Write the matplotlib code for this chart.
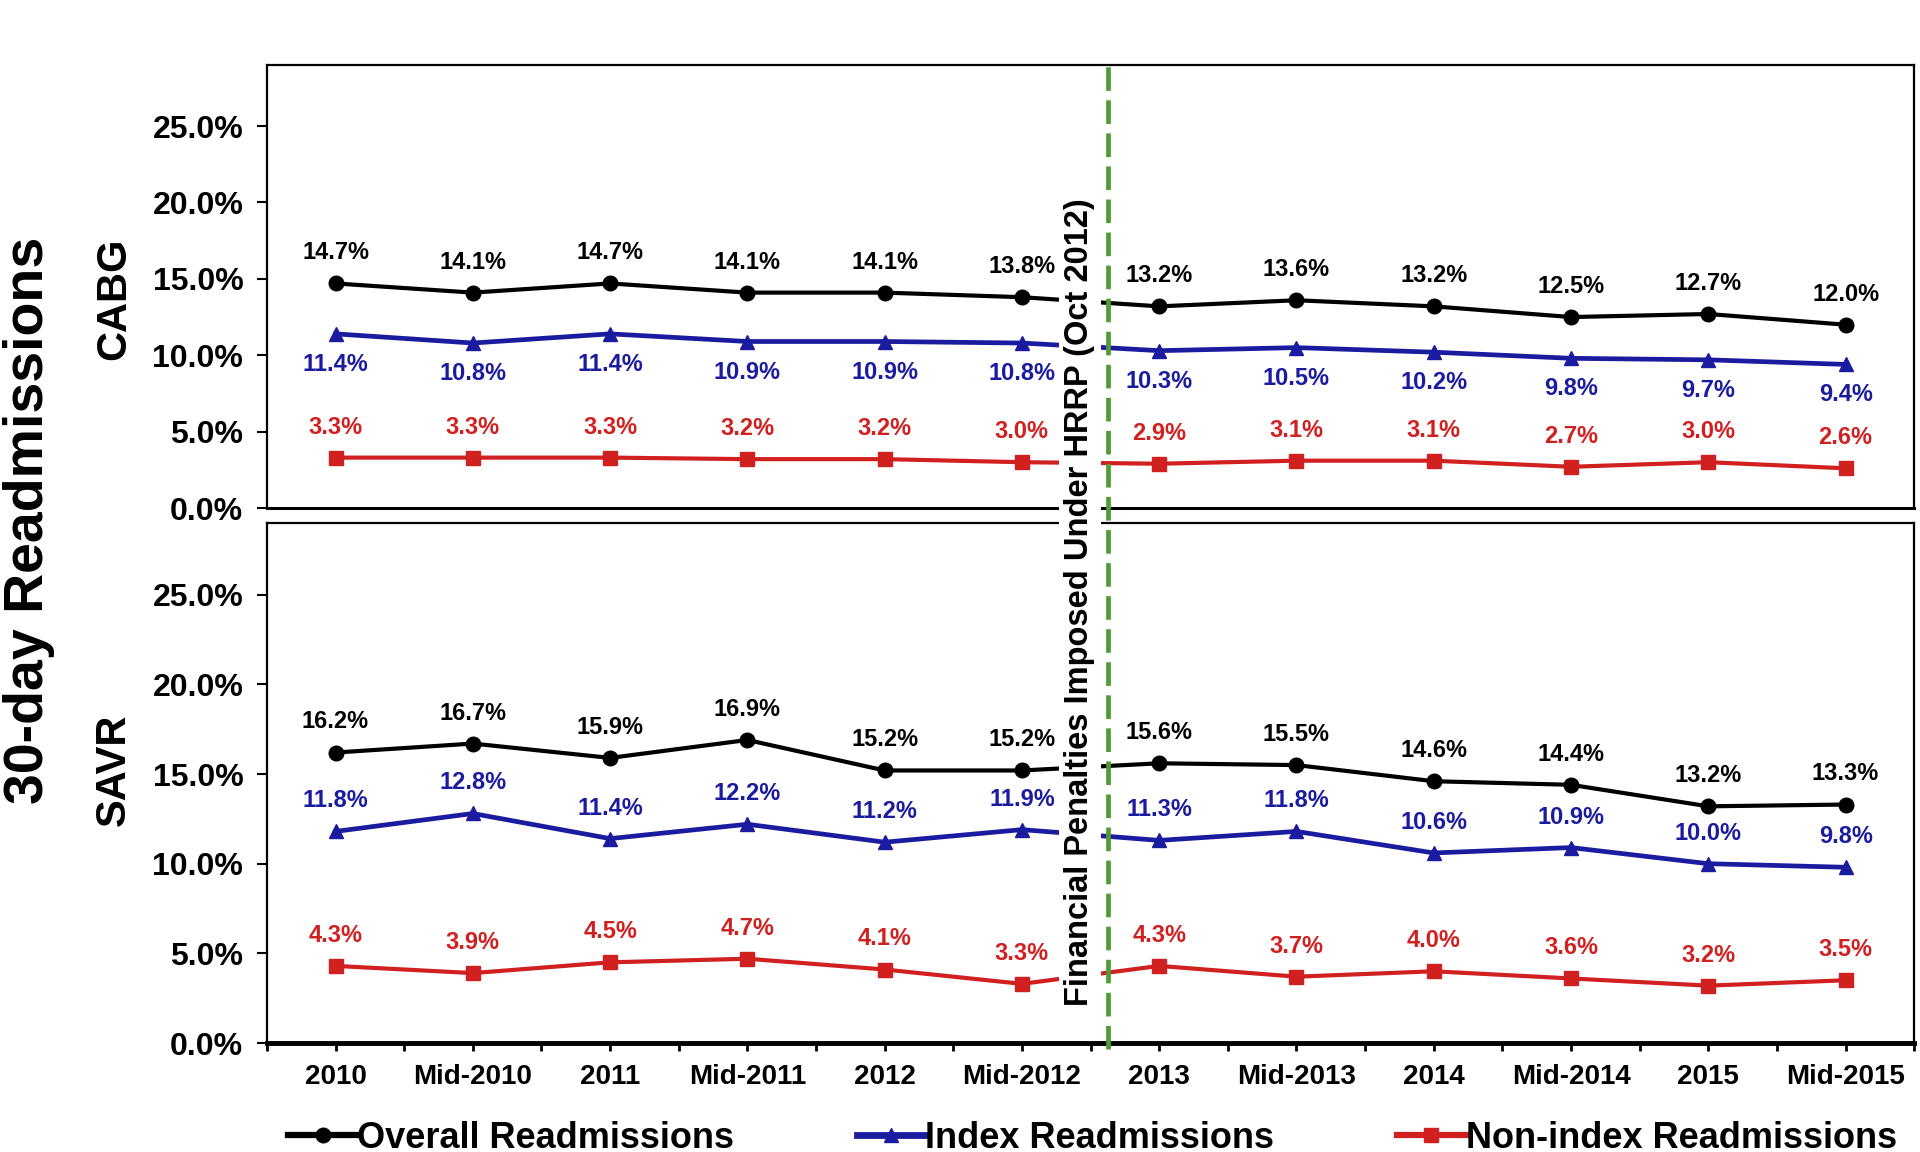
import matplotlib
matplotlib.use("Agg")
import matplotlib.pyplot as plt
from matplotlib.lines import Line2D
import matplotlib.transforms as mtransforms

# ---------------- data ----------------
periods = ["2010", "Mid-2010", "2011", "Mid-2011", "2012", "Mid-2012",
           "2013", "Mid-2013", "2014", "Mid-2014", "2015", "Mid-2015"]

cabg_overall = [14.7, 14.1, 14.7, 14.1, 14.1, 13.8, 13.2, 13.6, 13.2, 12.5, 12.7, 12.0]
cabg_index = [11.4, 10.8, 11.4, 10.9, 10.9, 10.8, 10.3, 10.5, 10.2, 9.8, 9.7, 9.4]
cabg_nonindex = [3.3, 3.3, 3.3, 3.2, 3.2, 3.0, 2.9, 3.1, 3.1, 2.7, 3.0, 2.6]

savr_overall = [16.2, 16.7, 15.9, 16.9, 15.2, 15.2, 15.6, 15.5, 14.6, 14.4, 13.2, 13.3]
savr_index = [11.8, 12.8, 11.4, 12.2, 11.2, 11.9, 11.3, 11.8, 10.6, 10.9, 10.0, 9.8]
savr_nonindex = [4.3, 3.9, 4.5, 4.7, 4.1, 3.3, 4.3, 3.7, 4.0, 3.6, 3.2, 3.5]

y_ticks = [0, 5, 10, 15, 20, 25]
y_ticklabels = ["0.0%", "5.0%", "10.0%", "15.0%", "20.0%", "25.0%"]
series_names = ["Overall Readmissions", "Index Readmissions", "Non-index Readmissions"]
policy_x = 5.625  # Oct 2012, between Mid-2012 and 2013
policy_label = "Financial Penalties Imposed Under HRRP (Oct 2012)"

# ---------------- style ----------------
FONT = ["Liberation Sans", "DejaVu Sans"]
plt.rcParams["font.family"] = FONT
plt.rcParams["font.weight"] = "bold"

BLACK = "#000000"
BLUE = "#1B1BA0"
RED = "#D02020"
GREEN = "#4E9C32"

styles = [
    dict(color=BLACK, marker="o", ms=10.5, lw=3.0),
    dict(color=BLUE, marker="^", ms=10.5, lw=3.4),
    dict(color=RED, marker="s", ms=10, lw=3.0),
]

fig = plt.figure(figsize=(19.2, 11.52), dpi=100)
ax_top = fig.add_axes([0.139, 0.559, 0.858, 0.3846])
ax_bot = fig.add_axes([0.139, 0.0946, 0.858, 0.4514])

x = list(range(len(periods)))


def draw_panel(ax, data, offsets):
    for vals, st, off in zip(data, styles, offsets):
        ax.plot(x, vals, color=st["color"], marker=st["marker"], markersize=st["ms"],
                linewidth=st["lw"], zorder=3)
        for xi, v in zip(x, vals):
            ax.annotate(f"{v:.1f}%", (xi, v), xytext=(0, off), textcoords="offset points",
                        ha="center", va="center", fontsize=17, fontweight="bold",
                        color=st["color"], zorder=4)
    ax.set_xlim(-0.5, len(periods) - 0.5)
    ax.set_ylim(0, 29)
    ax.set_yticks(y_ticks)
    ax.set_yticklabels(y_ticklabels, fontsize=23, fontweight="bold")
    ax.tick_params(axis="y", direction="out", length=7, width=1.5, pad=10)
    for s in ax.spines.values():
        s.set_linewidth(1.6)
        s.set_color("black")


draw_panel(ax_top, [cabg_overall, cabg_index, cabg_nonindex], [22, -22, 22])
draw_panel(ax_bot, [savr_overall, savr_index, savr_nonindex], [22, 22, 22])

ax_top.set_xticks([])
ax_top.spines["bottom"].set_linewidth(2.2)

ax_bot.set_xticks(x)
ax_bot.set_xticklabels(periods, fontsize=20, fontweight="bold")
ax_bot.set_xticks([i + 0.5 for i in range(-1, len(periods))], minor=True)
ax_bot.tick_params(axis="x", which="both", direction="out", length=6, width=2, pad=9)
ax_bot.spines["bottom"].set_linewidth(3.5)

# panel labels
fig.text(0.015, 0.5486, "30-day Readmissions", rotation=90, ha="center", va="center",
         fontsize=40, fontweight="bold")
fig.text(0.0594, 0.741, "CABG", rotation=90, ha="center", va="center",
         fontsize=30, fontweight="bold")
fig.text(0.0594, 0.332, "SAVR", rotation=90, ha="center", va="center",
         fontsize=30, fontweight="bold")

# policy line and label
blend = mtransforms.blended_transform_factory(ax_bot.transData, fig.transFigure)
fig.text(5.42, 0.4774, policy_label, transform=blend, rotation=90, ha="center", va="center",
         fontsize=23.5, fontweight="bold", zorder=5,
         bbox=dict(facecolor="white", edgecolor="none", pad=4))
fig.add_artist(Line2D([policy_x, policy_x], [0.089, 0.9436], transform=blend,
                      color=GREEN, linewidth=3.4, dashes=(5, 2), zorder=6))

# legend
handles = [Line2D([], [], color=st["color"], marker=st["marker"], markersize=st["ms"],
                  linewidth=st["lw"] + 1.5) for st in styles]
leg = fig.legend(handles, series_names, loc="center", bbox_to_anchor=(0.569, 0.012),
                 ncol=3, frameon=False, handlelength=1.9, handletextpad=0.0,
                 columnspacing=3.4, prop=dict(size=26, weight="bold"))

fig.savefig("out.png", dpi=100)
